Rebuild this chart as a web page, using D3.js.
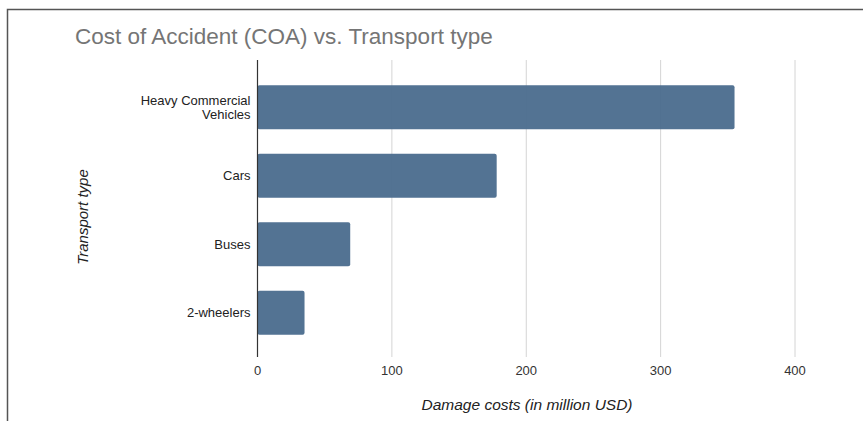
<!DOCTYPE html>
<html>
<head>
<meta charset="utf-8">
<script src="https://cdn.jsdelivr.net/npm/d3@7"></script>
<style>
  body { margin: 0; background: #fff; }
  svg { font-family: "Liberation Sans", Arial, sans-serif; }
</style>
</head>
<body>
<div id="chart"></div>
<script>
// Data
const categories = ["Heavy Commercial Vehicles", "Cars", "Buses", "2-wheelers"];
const categoryLines = [["Heavy Commercial", "Vehicles"], ["Cars"], ["Buses"], ["2-wheelers"]];
const costs = [355, 178, 69, 35];
const xTicks = [0, 100, 200, 300, 400];

const width = 863, height = 421;

const svg = d3.select("#chart").append("svg")
    .attr("width", width)
    .attr("height", height);

// outer frame (runs off the right and bottom edges)
svg.append("rect")
    .attr("x", 7.5).attr("y", 9.5)
    .attr("width", 900).attr("height", 500)
    .attr("fill", "none")
    .attr("stroke", "#555")
    .attr("stroke-width", 1.5);

// Title
svg.append("text")
    .attr("x", 75).attr("y", 44)
    .attr("font-size", 22.5)
    .attr("fill", "#757575")
    .text("Cost of Accident (COA) vs. Transport type");

// Scales
const x = d3.scaleLinear().domain([0, 400]).range([257.5, 795]);
const y = d3.scaleBand().domain(categories).range([73, 347]).paddingInner(0.36).paddingOuter(0.18);

const plotTop = 60, plotBottom = 357;

// Grid lines
svg.append("g").selectAll("line")
    .data(xTicks.slice(1))
    .enter().append("line")
    .attr("x1", d => x(d)).attr("x2", d => x(d))
    .attr("y1", plotTop).attr("y2", plotBottom)
    .attr("stroke", "#d4d4d4")
    .attr("stroke-width", 1);

// Bars
svg.append("g").selectAll("rect")
    .data(categories)
    .enter().append("rect")
    .attr("x", x(0))
    .attr("y", d => y(d))
    .attr("width", (d, i) => x(costs[i]) - x(0))
    .attr("height", y.bandwidth())
    .attr("rx", 2)
    .attr("fill", "#4a6b8d")
    .attr("fill-opacity", 0.95);

// Baseline (y axis line)
svg.append("line")
    .attr("x1", x(0)).attr("x2", x(0))
    .attr("y1", plotTop).attr("y2", plotBottom)
    .attr("stroke", "#333")
    .attr("stroke-width", 1.2);

// X tick labels
svg.append("g").selectAll("text")
    .data(xTicks)
    .enter().append("text")
    .attr("x", d => x(d))
    .attr("y", 375)
    .attr("text-anchor", "middle")
    .attr("font-size", 13)
    .attr("fill", "#333")
    .text(d => d);

// Category labels
const catLabels = svg.append("g").selectAll("text")
    .data(categories)
    .enter().append("text")
    .attr("text-anchor", "end")
    .attr("font-size", 13)
    .attr("fill", "#222")
    .attr("transform", d => "translate(250.5," + (y(d) + y.bandwidth() / 2) + ")");

catLabels.each(function(d, i) {
    const lines = categoryLines[i];
    const t = d3.select(this);
    lines.forEach((ln, j) => {
        t.append("tspan")
            .attr("x", 0)
            .attr("y", (j - (lines.length - 1) / 2) * 14.5 + 4.5)
            .text(ln);
    });
});

// Axis titles
svg.append("text")
    .attr("x", 527).attr("y", 410)
    .attr("text-anchor", "middle")
    .attr("font-size", 15.5)
    .attr("font-style", "italic")
    .attr("fill", "#222")
    .text("Damage costs (in million USD)");

svg.append("text")
    .attr("transform", "translate(88,217) rotate(-90)")
    .attr("text-anchor", "middle")
    .attr("font-size", 15)
    .attr("font-style", "italic")
    .attr("fill", "#222")
    .text("Transport type");
</script>
</body>
</html>
